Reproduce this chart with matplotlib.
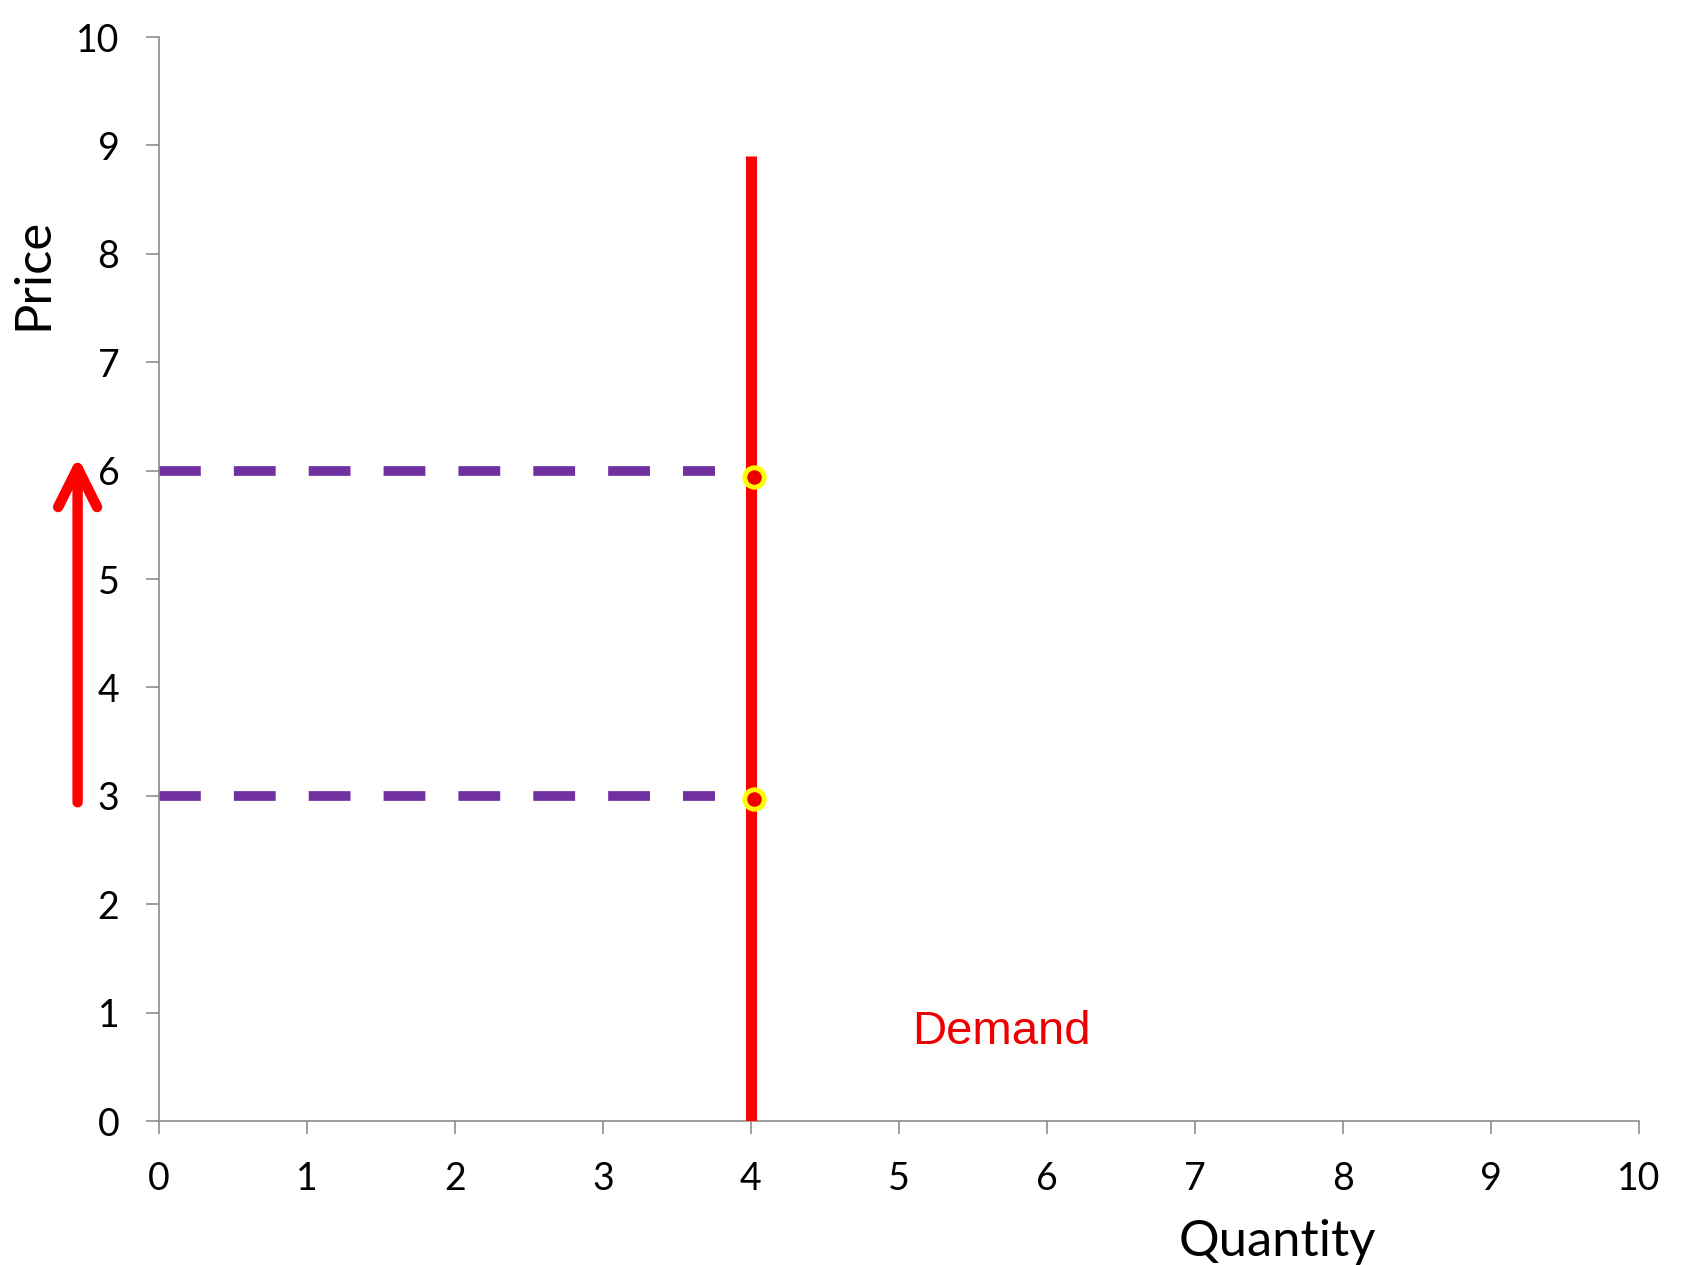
import matplotlib
matplotlib.use("Agg")
import matplotlib.pyplot as plt

# Data
demand_q = [4, 4]
demand_p = [0, 8.9]
prices = [3, 6]
dash_end_q = 3.76
point_q = [4.02, 4.02]
point_p = [2.97, 5.94]
arrow_x = -0.55
arrow_from = 2.94
arrow_to = 6.13
x_ticks = list(range(0, 11))
y_ticks = list(range(0, 11))

W, H = 1687, 1265
fig = plt.figure(figsize=(W / 100, H / 100), dpi=100)
ax = fig.add_axes([159 / W, 1 - 1121 / H, (1639 - 159) / W, (1121 - 37) / H])
ax.set_xlim(0, 10)
ax.set_ylim(0, 10)

gray = "#8c8c8c"
for s in ["top", "right"]:
    ax.spines[s].set_visible(False)
for s in ["left", "bottom"]:
    ax.spines[s].set_color(gray)
    ax.spines[s].set_linewidth(1.2)

tick_font = "Lato"
ax.set_xticks(x_ticks)
ax.set_yticks(y_ticks)
ax.set_xticklabels([str(t) for t in x_ticks], fontfamily=tick_font, fontsize=27)
ax.set_yticklabels([str(t) for t in y_ticks], fontfamily=tick_font, fontsize=27)
ax.tick_params(axis="both", direction="out", length=9.5, width=1.2, color=gray)
ax.tick_params(axis="y", pad=19)
ax.tick_params(axis="x", pad=19)

# Dashed price lines
for p in prices:
    ax.plot([0, dash_end_q], [p, p], color="#7030A0", lw=7, dashes=(4.3, 3.4),
            solid_capstyle="butt", dash_capstyle="butt", zorder=2)

# Demand line
ax.plot(demand_q, demand_p, color="#FF0000", lw=8, solid_capstyle="butt", zorder=3)

# Points
ax.plot(point_q, point_p, linestyle="none", marker="o", markersize=14,
        markerfacecolor="#EE0000", markeredgecolor="#FFFF00", markeredgewidth=3.5, zorder=4)

# Arrow
ax.annotate("", xy=(arrow_x, arrow_to), xytext=(arrow_x, arrow_from),
            xycoords="data", textcoords="data", annotation_clip=False,
            arrowprops=dict(arrowstyle="->,head_length=2.8,head_width=1.4",
                            color="#FF0000", lw=7.5, capstyle="round",
                            joinstyle="round", shrinkA=0, shrinkB=0,
                            mutation_scale=10))

ax.text(5.09, 0.71, "Demand", color="#EE0000", fontfamily="Liberation Sans",
        fontsize=34, ha="left", va="baseline")

fig.text(1277 / W, 1 - 1256 / H, "Quantity", fontfamily=tick_font, fontsize=36.5,
         ha="center", va="baseline")
fig.text(47 / W, 1 - 274 / H, "Price", fontfamily=tick_font, fontsize=36.5,
         rotation=90, rotation_mode="anchor", ha="center", va="baseline")

fig.savefig("out.png", dpi=100)
